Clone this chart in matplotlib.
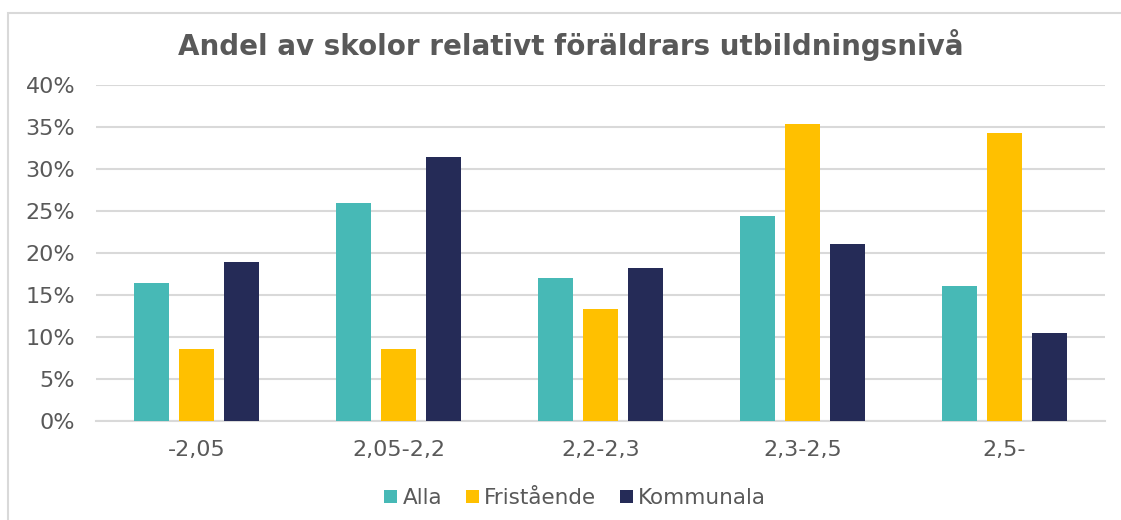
import numpy as np
import matplotlib
matplotlib.use("Agg")
from matplotlib import pyplot as plt
from matplotlib.patches import Rectangle
from matplotlib.ticker import FuncFormatter

# Data
categories = ["-2,05", "2,05-2,2", "2,2-2,3", "2,3-2,5", "2,5-"]
alla = [16.4, 26.0, 17.0, 24.4, 16.1]
fristaende = [8.6, 8.6, 13.3, 35.3, 34.3]
kommunala = [18.9, 31.4, 18.2, 21.1, 10.5]
series_names = ["Alla", "Fristående", "Kommunala"]
colors = ["#47B9B6", "#FFC000", "#252B57"]

text_color = "#595959"
grid_color = "#D9D9D9"

plt.rcParams["font.family"] = ["DejaVu Sans"]

fig = plt.figure(figsize=(11.21, 5.2), dpi=100)
ax = fig.add_axes([96 / 1121, 1 - 421 / 520, (1105 - 96) / 1121, (421 - 85) / 520])

x = np.arange(len(categories))
width = 0.173
offset = 0.223
for i, (vals, name, col) in enumerate(zip([alla, fristaende, kommunala], series_names, colors)):
    ax.bar(x + (i - 1) * offset, vals, width, color=col, label=name, zorder=3)

ax.set_xlim(-0.5, len(categories) - 0.5)
ax.set_ylim(0, 40)
ax.set_yticks(np.arange(0, 41, 5))
ax.yaxis.set_major_formatter(FuncFormatter(lambda v, p: f"{v:.0f}%"))
ax.set_xticks(x)
ax.set_xticklabels(categories)
ax.grid(axis="y", color=grid_color, linewidth=1.5, zorder=0)
for s in ["top", "right", "left"]:
    ax.spines[s].set_visible(False)
ax.spines["bottom"].set_color(grid_color)
ax.spines["bottom"].set_linewidth(1.5)
ax.tick_params(axis="both", length=0, labelsize=16, labelcolor=text_color)
ax.tick_params(axis="y", pad=15)
ax.tick_params(axis="x", pad=14)

fig.text(571 / 1121, 1 - 45 / 520, "Andel av skolor relativt föräldrars utbildningsnivå",
         ha="center", va="center", fontsize=20, fontweight="bold", color=text_color)

leg = fig.legend(loc="center", bbox_to_anchor=(0.513, 1 - 498 / 520), ncol=3, frameon=False,
                 fontsize=15.5, handlelength=0.6, handleheight=0.6, handletextpad=0.25,
                 columnspacing=1.1)
for t in leg.get_texts():
    t.set_color(text_color)

# outer chart border
fig.patches.append(Rectangle((8 / 1121, -0.1), 1.2, 1 - 13 / 520 + 0.1, transform=fig.transFigure,
                             fill=False, edgecolor=grid_color, linewidth=1.5))

fig.savefig("out.png", dpi=100)
